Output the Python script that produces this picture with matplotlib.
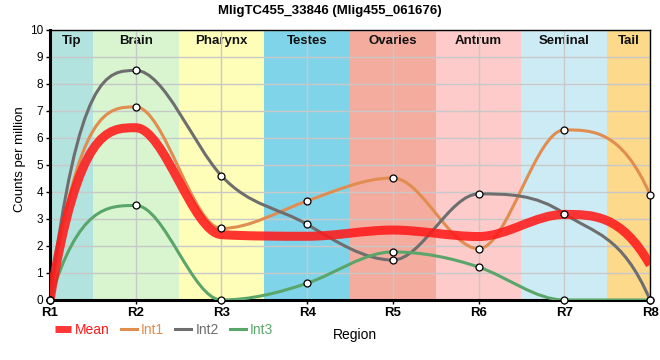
import matplotlib
matplotlib.use('Agg')
import matplotlib.pyplot as plt
import numpy as np
from matplotlib.path import Path
from matplotlib.patches import PathPatch
from matplotlib.lines import Line2D

plt.rcParams['font.family'] = ['Liberation Sans', 'DejaVu Sans']

# --- data -------------------------------------------------------------
regions_x = ['R1', 'R2', 'R3', 'R4', 'R5', 'R6', 'R7', 'R8']
int1 = [0, 7.15, 2.65, 3.67, 4.52, 1.90, 6.30, 3.90]
int2 = [0, 8.50, 4.60, 2.80, 1.48, 3.93, 3.20, 0]
int3 = [0, 3.50, 0, 0.62, 1.78, 1.22, 0, 0]
mean = [0, 6.38, 2.42, 2.36, 2.59, 2.35, 3.17, 1.30]

tissue_names = ['Tip', 'Brain', 'Pharynx', 'Testes', 'Ovaries', 'Antrum', 'Seminal', 'Tail']
tissue_edges = [1, 1.5, 2.5, 3.5, 4.5, 5.5, 6.5, 7.5, 8]
tissue_colors = ['#b3e3df', '#d8f5d0', '#fefeb9', '#7fd4ea',
                 '#f4ac9e', '#fecbcb', '#cdebf5', '#fdd98b']

C_MEAN = '#ff1a1a'
C_INT1 = '#e08d4f'
C_INT2 = '#6e6e6e'
C_INT3 = '#5aa66a'


def smooth_path(xs, ys):
    """Monotone-ish cubic bezier through the points (flat at local extrema)."""
    xs = np.asarray(xs, float)
    ys = np.asarray(ys, float)
    n = len(xs)
    s = np.diff(ys) / np.diff(xs)
    m = np.zeros(n)
    for i in range(1, n - 1):
        if s[i - 1] * s[i] <= 0:
            continue
        mi = 1.2 * (ys[i + 1] - ys[i - 1]) / (xs[i + 1] - xs[i - 1])
        lim = 3 * min(abs(s[i - 1]), abs(s[i]))
        m[i] = np.sign(mi) * min(abs(mi), lim)
    # steep ends, like the original widget
    for end, nb, si in ((0, 1, s[0]), (n - 1, n - 2, s[-1])):
        if si == 0:
            continue
        me = 3 * si - m[nb]
        m[end] = np.sign(si) * min(abs(me), 3 * abs(si))

    verts = [(xs[0], ys[0])]
    codes = [Path.MOVETO]
    for i in range(n - 1):
        h = xs[i + 1] - xs[i]
        verts += [(xs[i] + h / 3, ys[i] + m[i] * h / 3),
                  (xs[i + 1] - h / 3, ys[i + 1] - m[i + 1] * h / 3),
                  (xs[i + 1], ys[i + 1])]
        codes += [Path.CURVE4] * 3
    return Path(verts, codes)


fig = plt.figure(figsize=(6.6, 3.6), dpi=100)
ax = fig.add_axes([0.0758, 0.1667, 0.9091, 0.75])

xpos = np.arange(1, len(regions_x) + 1)

for name, lo, hi, col in zip(tissue_names, tissue_edges[:-1], tissue_edges[1:], tissue_colors):
    ax.axvspan(lo, hi, color=col, lw=0, zorder=0.5)
    ax.text((lo + hi) / 2, 9.6, name, ha='center', va='center',
            fontsize=9.5, fontweight='bold', color='#111111', zorder=1)

series = [(int1, C_INT1, 2.2, 3.0), (int2, C_INT2, 2.2, 3.1), (int3, C_INT3, 2.2, 3.2)]
for vals, col, lw, z in series:
    ax.add_patch(PathPatch(smooth_path(xpos, vals), fill=False, edgecolor=col,
                           lw=lw, zorder=z, capstyle='butt'))
ax.add_patch(PathPatch(smooth_path(xpos, mean), fill=False, edgecolor=C_MEAN,
                       lw=6.5, alpha=0.88, zorder=3.5, capstyle='butt'))

for vals, col, lw, z in series:
    ax.plot(xpos, vals, 'o', ms=5, mfc='white', mec='black', mew=0.9,
            zorder=5, clip_on=False)

ax.set_xlim(1, 8)
ax.set_ylim(0, 10)
ax.set_xticks(xpos)
ax.set_xticklabels(regions_x, fontsize=9.5, fontweight='bold')
ax.set_yticks(range(0, 11))
ax.tick_params(axis='y', labelsize=8.5, length=3, width=1, pad=2)
ax.tick_params(axis='x', length=3, width=1, pad=2)
ax.grid(True, color='#c8c8c8', lw=1)
for side in ('left', 'bottom'):
    ax.spines[side].set_linewidth(2.2)
for side in ('top', 'right'):
    ax.spines[side].set_linewidth(1)

ax.set_ylabel('Counts per million', fontsize=9.5)
ax.yaxis.set_label_coords(-0.04, 0.52)
ax.set_xlabel('Region', fontsize=10)
ax.xaxis.set_label_coords(0.508, -0.105)

fig.suptitle('MligTC455_33846 (Mlig455_061676)', fontsize=9.5, fontweight='bold',
             y=0.985, x=0.5, va='top')

handles = [Line2D([], [], color=C_MEAN, lw=5, alpha=0.88, solid_capstyle='butt'),
           Line2D([], [], color=C_INT1, lw=2.2),
           Line2D([], [], color=C_INT2, lw=2.2),
           Line2D([], [], color=C_INT3, lw=2.2)]
leg = fig.legend(handles, ['Mean', 'Int1', 'Int2', 'Int3'], loc='center left',
                 bbox_to_anchor=(0.083, 0.083), ncol=4, frameon=False, fontsize=10,
                 handlelength=1.15, handletextpad=0.3, columnspacing=0.8,
                 borderaxespad=0, borderpad=0)
for txt, col in zip(leg.get_texts(), [C_MEAN, C_INT1, C_INT2, C_INT3]):
    txt.set_color(col)

fig.savefig('out.png', dpi=100)
